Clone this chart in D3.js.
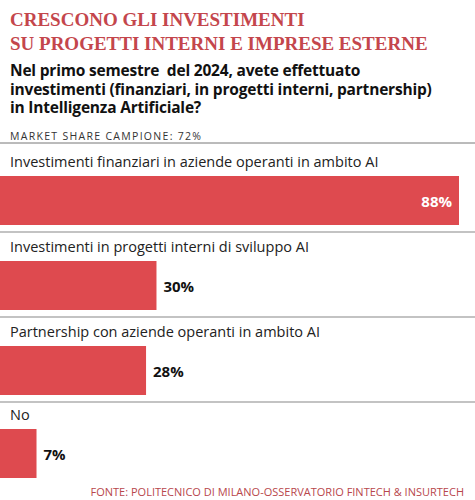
<!DOCTYPE html>
<html><head><meta charset="utf-8">
<script src="https://cdn.jsdelivr.net/npm/d3@7"></script>
<style>body{margin:0;background:#fff}</style>
</head><body>
<script>
const categories = ["Investimenti finanziari in aziende operanti in ambito AI",
  "Investimenti in progetti interni di sviluppo AI",
  "Partnership con aziende operanti in ambito AI",
  "No"];
const values = [88, 30, 28, 7];
const titleLines = ["CRESCONO GLI INVESTIMENTI", "SU PROGETTI INTERNI E IMPRESE ESTERNE"];
const questionLines = ["Nel primo semestre  del 2024, avete effettuato",
  "investimenti (finanziari, in progetti interni, partnership)",
  "in Intelligenza Artificiale?"];

const red = "#de4a4f";
const svg = d3.select("body").append("svg").attr("width", 475).attr("height", 500);

svg.selectAll("text.t").data(titleLines).join("text")
  .attr("x", 10).attr("y", (d, i) => 26 + i * 24)
  .attr("font-family", "Liberation Serif").attr("font-weight", "bold")
  .attr("font-size", 19).attr("fill", "#c4464c").text(d => d);

svg.selectAll("text.q").data(questionLines).join("text")
  .attr("x", 10).attr("y", (d, i) => 76 + i * 18.5)
  .attr("font-family", "Open Sans").attr("font-weight", "bold")
  .attr("font-size", 15.5).attr("fill", "#111").attr("letter-spacing", -0.2)
  .attr("xml:space", "preserve").text(d => d);

svg.append("text").attr("x", 10).attr("y", 140)
  .attr("font-family", "Open Sans").attr("font-size", 10.5).attr("letter-spacing", 1.3)
  .attr("fill", "#333").text("MARKET SHARE CAMPIONE: 72%");

const x = d3.scaleLinear().domain([0, 88]).range([0, 459]);
const y = d3.scaleOrdinal().domain(categories).range([167, 252, 337, 420]);

svg.append("line").attr("x1", 0).attr("x2", 475).attr("y1", 143).attr("y2", 143)
  .attr("stroke", "#777").attr("stroke-width", 1);

const g = svg.selectAll("g.bar").data(categories).join("g")
  .attr("transform", d => `translate(0,${y(d)})`);

g.append("text").attr("x", 10).attr("y", 0)
  .attr("font-family", "Open Sans").attr("font-size", 14.5).attr("fill", "#222").text(d => d);

g.append("rect").attr("x", 0).attr("y", 9).attr("height", 49)
  .attr("width", (d, i) => x(values[i])).attr("fill", red);

g.filter((d, i) => i < 3).append("line").attr("x1", 0).attr("x2", 475).attr("y1", 65).attr("y2", 65)
  .attr("stroke", "#888").attr("stroke-width", 1.2);

g.append("text")
  .attr("x", (d, i) => i === 0 ? x(values[i]) - 7 : x(values[i]) + 7)
  .attr("y", 40)
  .attr("text-anchor", (d, i) => i === 0 ? "end" : "start")
  .attr("font-family", "Open Sans").attr("font-weight", "bold").attr("font-size", 15)
  .attr("fill", (d, i) => i === 0 ? "#fff" : "#111")
  .text((d, i) => values[i] + "%");

svg.append("text").attr("x", 464).attr("y", 496).attr("text-anchor", "end")
  .attr("font-family", "Open Sans").attr("font-size", 11).attr("fill", "#b8474c")
  .text("FONTE: POLITECNICO DI MILANO-OSSERVATORIO FINTECH & INSURTECH");
</script>
</body></html>
